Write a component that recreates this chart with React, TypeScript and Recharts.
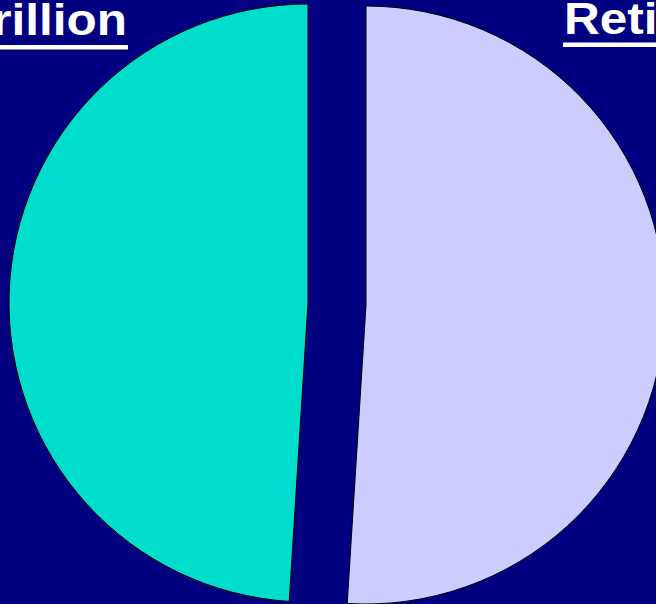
import { PieChart, Pie, Cell } from 'recharts';

const categories = ['Retirement', 'Trillion'];
const values = [51, 49];

const data = categories.map((name, i) => ({ name, value: values[i] }));

const NAVY = '#000080';
const COLORS = ['#CCCCFF', '#00DDCC'];

const labelFont = {
  fill: '#fff',
  fontFamily: "'Liberation Sans', Arial, sans-serif",
  fontWeight: 'bold' as const,
  fontSize: 45,
};

export default function App() {
  return (
    <div style={{ position: 'fixed', left: 0, top: 0, width: 656, height: 604, background: NAVY, overflow: 'hidden' }}>
      <PieChart width={656} height={604} margin={{ top: 0, right: 0, bottom: 0, left: 0 }}>
        {/* left slice, pulled out to the left */}
        <Pie
          data={data}
          dataKey="value"
          cx={308}
          cy={303}
          outerRadius={299}
          startAngle={90}
          endAngle={-270}
          isAnimationActive={false}
        >
          {data.map((_, i) => (
            <Cell key={`l-${i}`} fill={i === 1 ? COLORS[1] : 'transparent'} stroke={i === 1 ? '#000' : 'none'} strokeWidth={1} />
          ))}
        </Pie>
        {/* right slice, pulled out to the right */}
        <Pie
          data={data}
          dataKey="value"
          cx={366}
          cy={305}
          outerRadius={299}
          startAngle={90}
          endAngle={-270}
          isAnimationActive={false}
        >
          {data.map((_, i) => (
            <Cell key={`r-${i}`} fill={i === 0 ? COLORS[0] : 'transparent'} stroke={i === 0 ? '#000' : 'none'} strokeWidth={1} />
          ))}
        </Pie>
      </PieChart>
      <svg width={656} height={604} style={{ position: 'absolute', left: 0, top: 0, pointerEvents: 'none' }}>
        <g transform="translate(127,35) scale(1.1,1)">
          <text x={0} y={0} textAnchor="end" {...labelFont}>
            {categories[1]}
          </text>
        </g>
        <rect x={0} y={45} width={128} height={4.5} fill="#fff" />
        <g transform="translate(564,34) scale(1.1,1)">
          <text x={0} y={0} textAnchor="start" {...labelFont}>
            {categories[0]}
          </text>
        </g>
        <rect x={563} y={42.5} width={93} height={4.5} fill="#fff" />
      </svg>
    </div>
  );
}
